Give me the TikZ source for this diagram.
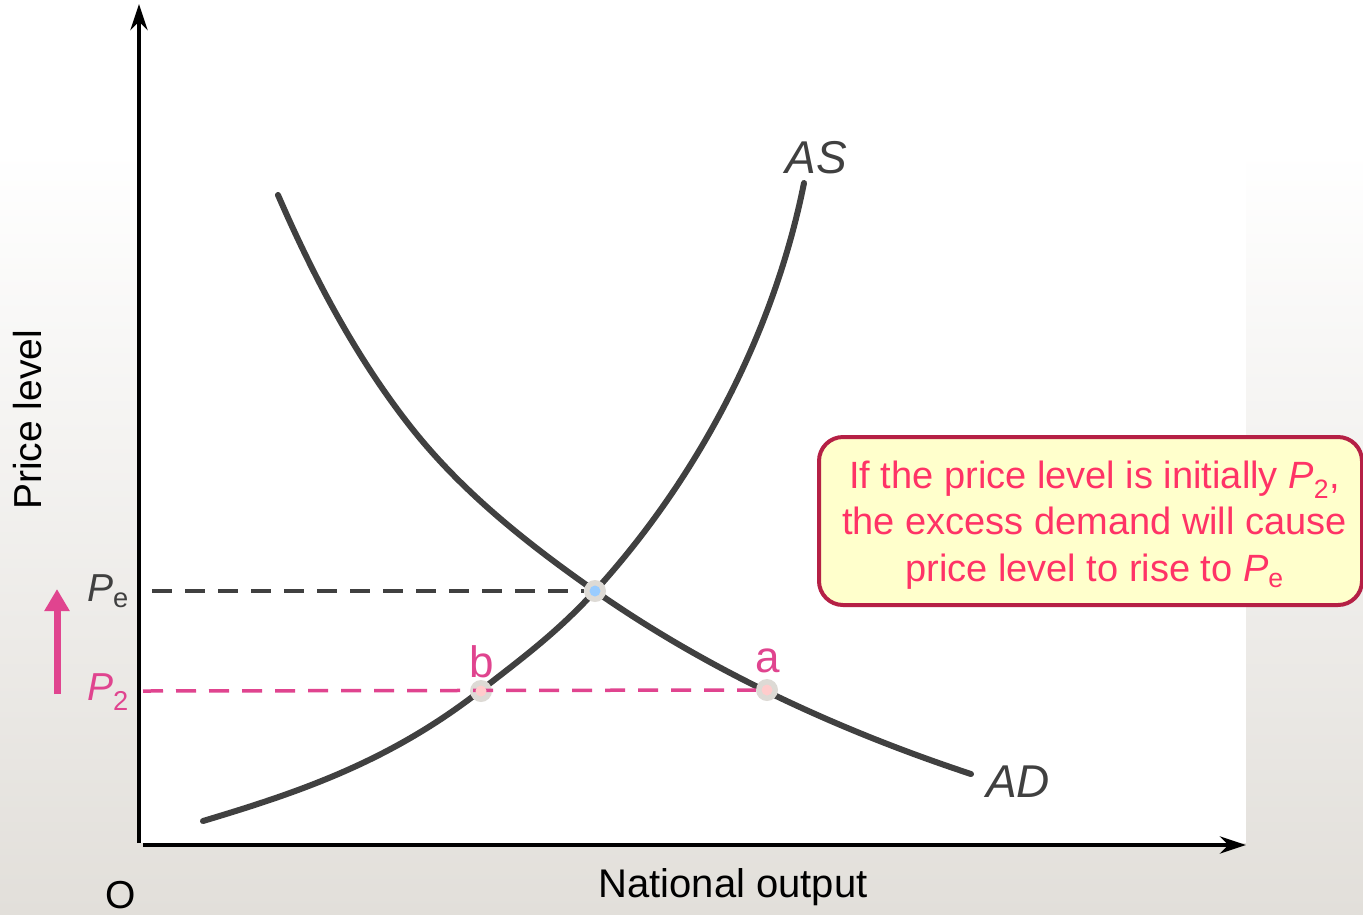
\documentclass[tikz,border=0pt]{standalone}
\usepackage{fontspec}
\setmainfont{Liberation Sans}
\usetikzlibrary{arrows.meta}
\definecolor{bgbot}{HTML}{E2DFDA}
\definecolor{curvec}{HTML}{404040}
\definecolor{pinkc}{HTML}{E0448F}
\definecolor{boxfill}{HTML}{FFFFCC}
\definecolor{boxdraw}{HTML}{B52045}
\definecolor{boxtext}{HTML}{FF3366}
\definecolor{dotring}{HTML}{DDDAD5}
\definecolor{dotblue}{HTML}{99CCFF}
\definecolor{dotpink}{HTML}{FFCCCC}
\tikzset{
  axisline/.style={line width=4.5pt,-{Stealth[length=26pt,width=17pt]}},
  curveline/.style={line width=6pt,curvec,line cap=round},
  dashline/.style={line width=3.5pt,dash pattern=on 20pt off 13pt},
  lbl/.style={inner sep=0pt,font=\fontsize{39}{44}\selectfont},
  dotmark/.style={circle,fill=dotring,minimum size=22pt,inner sep=0pt},
}
\begin{document}
\begin{tikzpicture}[x=1pt,y=-1pt]
\useasboundingbox (0,0) rectangle (1363,914);
\fill[white] (0,0) rectangle (1363,914);
\shade[top color=white,bottom color=bgbot] (0,150) rectangle (1363,914);
\fill[white] (140,0) rectangle (1246,843);

% curves
\coordinate (as0) at (203,821);
\coordinate (as3) at (804,183);
\coordinate (ad0) at (278,195);
\coordinate (ad3) at (971,774);
\draw[curveline] (as0) .. controls (295.3,793.3) and (387.7,763) .. (480,691)
  .. controls (518.3,661.1) and (556.7,633.2) .. (595,591)
  .. controls (698,478) and (774,333) .. (as3);
\draw[curveline] (ad0) .. controls (313.5,276.6) and (355.1,356) .. (410,426)
  .. controls (461.2,491.3) and (527,543.4) .. (595,591)
  .. controls (708.8,670.6) and (839,730.4) .. (ad3);

% dashed lines
\coordinate (pe0) at (152,591);
\coordinate (p20) at (143,691);
\node[dotmark] (e) at (595,591) {};
\node[dotmark] (b) at (481,691) {};
\node[dotmark] (a) at (767,690) {};
\draw[dashline,curvec] (pe0) -- (e.west);
\draw[dashline,pinkc] (p20) -- (a.west);
\fill[dotblue] (e) circle (5.5);
\fill[dotpink] (b) circle (5.5);
\fill[dotpink] (a) circle (5.5);

% axes
\coordinate (vtop) at (139,4);
\coordinate (vbot) at (139,843);
\coordinate (hl) at (143,845);
\coordinate (hr) at (1246,845);
\draw[axisline] (vbot) -- (vtop);
\draw[axisline] (hl) -- (hr);

% labels
\node[lbl,text=curvec,anchor=west] (pe) at (87,591) {\textit{P}\textsubscript{e}};
\node[lbl,text=pinkc,anchor=west] (p2) at (87,692) {\textit{P}\textsubscript{2}};
\coordinate (arb) at (57,694);
\coordinate (art) at (57,589);
\draw[pinkc,line width=7pt,-{Triangle[length=22pt,width=24pt]}] (arb) -- (art);
\node[lbl,text=pinkc,font=\fontsize{44}{48}\selectfont] (bl) at (482,662) {b};
\node[lbl,text=pinkc,font=\fontsize{44}{48}\selectfont] (al) at (768,661) {a};
\node[lbl,text=curvec,font=\fontsize{46}{50}\selectfont\itshape] (as) at (816,158) {AS};
\node[lbl,text=curvec,font=\fontsize{46}{50}\selectfont\itshape] (ad) at (1018,782) {AD};
\node[lbl,rotate=90] (yl) at (28,420) {Price level};
\node[lbl,font=\fontsize{40}{44}\selectfont] (xl) at (733,887) {National output};
\node[lbl] (o) at (121,895) {O};

% callout
\node[draw=boxdraw,line width=4pt,fill=boxfill,rounded corners=24pt,
  minimum width=543pt,minimum height=168pt] (box) at (1090.5,521) {};
\node[text=boxtext,align=center,inner sep=0pt,
  font=\fontsize{38}{46.5}\selectfont] (boxtxt) at (1094.5,525)
  {If the price level is initially \textit{P}\textsubscript{2},\\
   the excess demand will cause\\
   price level to rise to \textit{P}\textsubscript{e}};
\end{tikzpicture}
\end{document}
